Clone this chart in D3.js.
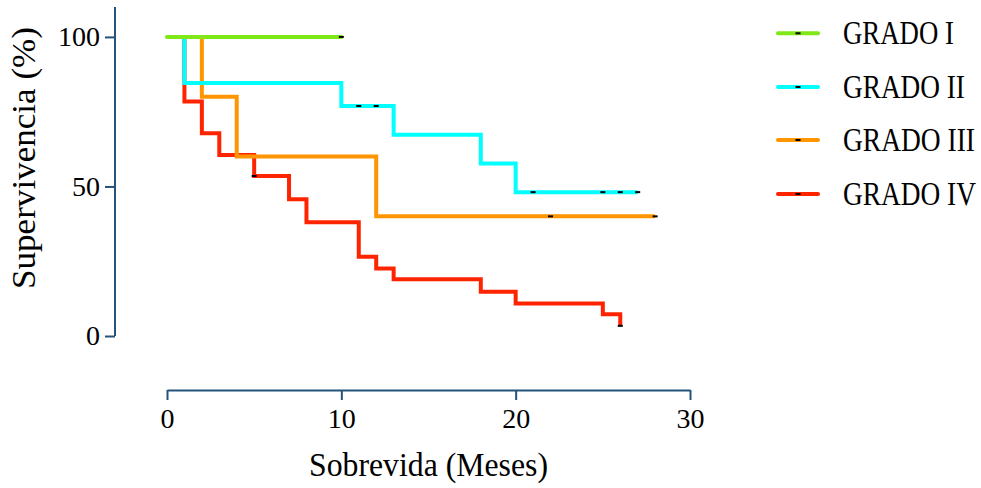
<!DOCTYPE html>
<html>
<head>
<meta charset="utf-8">
<script src="https://cdn.jsdelivr.net/npm/d3@7"></script>
<style>
  html, body { margin: 0; padding: 0; background: #ffffff; }
  svg { display: block; }
  text { font-family: "Liberation Serif", "Times New Roman", serif; fill: #000; }
</style>
</head>
<body>
<svg id="chart" width="981" height="488"></svg>
<script>
// ---- Data ----
const seriesNames = ["GRADO I", "GRADO II", "GRADO III", "GRADO IV"];
const seriesColors = ["#80e817", "#00ffff", "#ff9500", "#ff2400"];

// event times (months) and survival (%) after each event
const grado1Times = [];
const grado1Surv = [];
const grado1End = 10;
const grado1Censored = [10];

const grado2Times = [1, 10, 13, 18, 20];
const grado2Surv = [84.6, 76.9, 67.3, 57.7, 48.1];
const grado2End = 27;
const grado2Censored = [11, 12, 21, 25, 26, 27];

const grado3Times = [2, 4, 12];
const grado3Surv = [80, 60, 40];
const grado3End = 28;
const grado3Censored = [22, 28];

const grado4Times = [1, 2, 3, 5, 7, 8, 11, 12, 13, 18, 20, 25, 26];
const grado4Surv = [78.4, 67.8, 60.5, 53.5, 45.7, 38.0, 26.5, 22.6, 19.0, 14.8, 10.9, 7.3, 3.4];
const grado4End = 26;
const grado4Censored = [5, 26];

const xTicks = [0, 10, 20, 30];
const yTicks = [0, 50, 100];
const xTitle = "Sobrevida (Meses)";
const yTitle = "Supervivencia (%)";

const series = [
  { name: seriesNames[0], color: seriesColors[0], times: grado1Times, surv: grado1Surv, end: grado1End, cens: grado1Censored },
  { name: seriesNames[1], color: seriesColors[1], times: grado2Times, surv: grado2Surv, end: grado2End, cens: grado2Censored },
  { name: seriesNames[2], color: seriesColors[2], times: grado3Times, surv: grado3Surv, end: grado3End, cens: grado3Censored },
  { name: seriesNames[3], color: seriesColors[3], times: grado4Times, surv: grado4Surv, end: grado4End, cens: grado4Censored }
];

// ---- Layout ----
const svg = d3.select("#chart");
const axisColor = "#24527a";

const x = d3.scaleLinear().domain([0, 30]).range([167, 690]);
const y = d3.scaleLinear().domain([0, 110]).range([336, 7]);

function stepPoints(s) {
  const pts = [[0, 100]];
  let level = 100;
  s.times.forEach((t, i) => {
    pts.push([t, level]);
    level = s.surv[i];
    pts.push([t, level]);
  });
  pts.push([s.end, level]);
  return pts;
}
function survAt(s, t) {
  let level = 100;
  s.times.forEach((tt, i) => { if (tt <= t) level = s.surv[i]; });
  return level;
}

const line = d3.line().x(d => x(d[0])).y(d => y(d[1]));

// draw order: red, orange, cyan, green
const drawOrder = [3, 2, 1, 0];
const plot = svg.append("g");
drawOrder.forEach(i => {
  const s = series[i];
  plot.append("path")
    .datum(stepPoints(s))
    .attr("d", line)
    .attr("fill", "none")
    .attr("stroke", s.color)
    .attr("stroke-width", 4)
    .attr("stroke-linejoin", "miter")
    .attr("stroke-linecap", i === 0 ? "round" : "butt");
});
drawOrder.forEach(i => {
  const s = series[i];
  plot.selectAll(null)
    .data(s.cens)
    .enter().append("rect")
    .attr("x", d => x(d) - 2.5)
    .attr("y", d => y(survAt(s, d)) - 1)
    .attr("width", 5)
    .attr("height", 2)
    .attr("fill", "#000");
});

// ---- Axes ----
const yAxis = d3.axisLeft(y).tickValues(yTicks).tickSize(10).tickSizeOuter(0).tickPadding(5);
const gy = svg.append("g").attr("transform", "translate(115,0)").call(yAxis);
gy.select(".domain").attr("stroke", axisColor).attr("stroke-width", 2)
  .attr("d", `M0,${y(110)}V${y(0)}`);
gy.selectAll(".tick line").attr("stroke", axisColor).attr("stroke-width", 2);
gy.selectAll(".tick text").attr("font-size", 28).attr("font-family", "Liberation Serif").attr("fill", "#000");

const xAxis = d3.axisBottom(x).tickValues(xTicks).tickSize(10).tickSizeOuter(0).tickPadding(8);
const gx = svg.append("g").attr("transform", "translate(0,390)").call(xAxis);
gx.select(".domain").attr("stroke", axisColor).attr("stroke-width", 2);
gx.selectAll(".tick line").attr("stroke", axisColor).attr("stroke-width", 2);
gx.selectAll(".tick text").attr("font-size", 28).attr("font-family", "Liberation Serif").attr("fill", "#000");

// text fitted to a target width by horizontal scaling
function fittedText(parent, transform, str, size, targetW, anchor) {
  const g = parent.append("g").attr("transform", transform);
  const t = g.append("text")
    .attr("font-size", size)
    .attr("text-anchor", anchor)
    .text(str);
  const w = t.node().getComputedTextLength();
  const sx = targetW / w;
  t.attr("transform", `scale(${sx},1)`);
  return t;
}

fittedText(svg, "translate(428.5,476)", xTitle, 33, 239, "middle");
fittedText(svg, "translate(35,158) rotate(-90)", yTitle, 33, 262, "middle");

// ---- Legend ----
const legendY = [33.3, 87, 140, 194];
const legendW = [111, 122, 132, 133];
const legend = svg.append("g");
series.forEach((s, i) => {
  const g = legend.append("g").attr("transform", `translate(0,${legendY[i]})`);
  g.append("line")
    .attr("x1", 778).attr("x2", 818)
    .attr("y1", 0).attr("y2", 0)
    .attr("stroke", s.color).attr("stroke-width", 4)
    .attr("stroke-linecap", "round");
  g.append("rect")
    .attr("x", 795.5).attr("y", -1).attr("width", 5).attr("height", 2).attr("fill", "#000");
  fittedText(g, "translate(843,11)", s.name, 33, legendW[i], "start");
});
</script>
</body>
</html>
